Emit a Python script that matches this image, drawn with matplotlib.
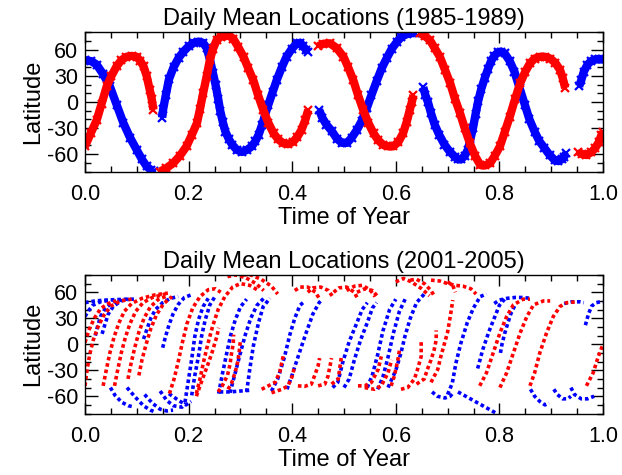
import matplotlib
matplotlib.use("Agg")
import matplotlib.pyplot as plt
from matplotlib.ticker import MultipleLocator

plt.rcParams['font.family'] = ['Liberation Sans', 'DejaVu Sans']

BLUE = (0.0, 0.0, 1.0)
RED = (1.0, 0.0, 0.0)

titles = ["Daily Mean Locations (1985-1989)", "Daily Mean Locations (2001-2005)"]
x_label = "Time of Year"
y_label = "Latitude"
x_ticks = [0.0, 0.2, 0.4, 0.6, 0.8, 1.0]
x_tick_labels = ["0.0", "0.2", "0.4", "0.6", "0.8", "1.0"]
y_ticks = [-60, -30, 0, 30, 60]
y_tick_labels = ["-60", "-30", "0", "30", "60"]

# ---- 1985-1989: (time of year, latitude) tracks, one list per continuous pass
early_blue = [
    [(0.000, 48), (0.012, 47), (0.0225, 43), (0.035, 32), (0.048, 18), (0.061, -3), (0.074, -24),
     (0.087, -41), (0.0998, -55), (0.110, -66), (0.119, -74), (0.127, -78), (0.133, -79)],
    [(0.149, -18), (0.151, -8), (0.156, 8), (0.162, 26), (0.171, 40), (0.181, 51), (0.190, 58),
     (0.200, 64), (0.210, 68), (0.219, 69.5), (0.228, 68), (0.235, 62), (0.242, 47), (0.247, 33),
     (0.252, 20), (0.257, 4), (0.261, -10), (0.266, -23), (0.271, -34), (0.278, -43), (0.284, -49),
     (0.293, -55), (0.303, -57.5), (0.313, -55), (0.322, -51), (0.329, -45), (0.335, -38),
     (0.342, -26), (0.348, -14), (0.354, -3), (0.362, 11), (0.370, 25), (0.380, 40), (0.389, 52),
     (0.399, 61), (0.409, 67.5), (0.416, 68), (0.421, 64), (0.427, 60), (0.431, 57)],
    [(0.452, -9), (0.458, -18), (0.466, -26), (0.476, -33), (0.486, -42), (0.496, -47),
     (0.506, -47), (0.515, -41), (0.525, -32), (0.534, -22), (0.544, -7), (0.553, 8), (0.563, 24),
     (0.573, 39), (0.583, 51), (0.592, 61), (0.602, 69), (0.611, 75), (0.621, 78), (0.631, 79.5),
     (0.637, 79)],
    [(0.653, 17), (0.657, 8), (0.662, 0), (0.668, -13), (0.675, -26), (0.684, -38), (0.694, -49),
     (0.704, -57), (0.714, -63), (0.720, -66), (0.726, -66), (0.733, -62), (0.739, -55),
     (0.744, -43), (0.749, -30), (0.754, -14), (0.759, 1), (0.765, 15), (0.772, 28), (0.778, 38),
     (0.784, 47), (0.790, 53), (0.797, 57), (0.803, 58), (0.810, 56), (0.820, 47), (0.829, 35),
     (0.839, 16), (0.849, -3), (0.858, -20), (0.868, -34), (0.877, -45), (0.887, -53),
     (0.897, -61), (0.907, -67), (0.914, -68), (0.920, -66), (0.925, -63), (0.929, -59)],
    [(0.954, 18), (0.958, 25), (0.963, 35), (0.970, 43), (0.977, 47), (0.984, 49), (0.992, 49),
     (1.000, 49)],
]
early_red = [
    [(0.000, -51), (0.011, -36), (0.0225, -21), (0.032, -2), (0.042, 18), (0.051, 30), (0.061, 41),
     (0.070, 48), (0.080, 52), (0.090, 53), (0.0998, 52), (0.107, 47), (0.113, 41), (0.119, 30),
     (0.125, 14), (0.129, 3), (0.132, -9)],
    [(0.145, -80), (0.157, -76), (0.170, -70.5), (0.183, -62), (0.196, -51), (0.206, -38),
     (0.216, -24.5), (0.222, -8), (0.228, 10), (0.235, 30), (0.241, 48), (0.247, 61), (0.254, 71),
     (0.262, 75), (0.270, 77), (0.278, 76), (0.286, 73), (0.296, 63), (0.306, 52), (0.315, 39),
     (0.325, 25), (0.334, 8), (0.344, -9), (0.354, -24), (0.364, -36), (0.373, -43),
     (0.383, -47.5), (0.392, -48.5), (0.402, -45.7), (0.410, -40), (0.418, -32), (0.425, -21),
     (0.431, -9)],
    [(0.450, 64), (0.460, 67), (0.473, 67.5), (0.486, 62), (0.499, 52), (0.508, 40), (0.518, 25),
     (0.527, 8), (0.537, -9), (0.547, -24), (0.557, -36), (0.566, -44), (0.576, -49.5),
     (0.585, -51), (0.595, -51), (0.605, -46), (0.614, -36), (0.621, -23), (0.627, -9),
     (0.631, 0), (0.634, 8)],
    [(0.647, 79), (0.656, 76), (0.666, 71), (0.675, 62), (0.685, 52), (0.695, 37), (0.705, 21.5),
     (0.714, 4), (0.724, -13), (0.733, -30), (0.743, -47.5), (0.753, -62), (0.763, -72.5),
     (0.772, -73), (0.782, -70.5), (0.791, -62), (0.801, -51), (0.810, -35), (0.820, -17),
     (0.830, 3), (0.840, 21.5), (0.850, 35), (0.859, 44.5), (0.868, 50), (0.878, 52),
     (0.888, 52), (0.898, 50), (0.908, 45), (0.917, 37), (0.922, 28), (0.927, 16)],
    [(0.952, -57), (0.960, -60), (0.968, -61), (0.977, -58), (0.985, -53), (0.992, -46),
     (0.997, -38), (1.000, -35)],
]

# ---- 2001-2005 tracks
late_blue = [
    [(0.0, 48), (0.02, 50), (0.04, 51), (0.06, 51.5), (0.08, 52), (0.095, 52)],
    [(0.0, 32), (0.006, 38), (0.015, 45), (0.03, 49), (0.05, 51)],
    [(0.02, 10), (0.024, 20), (0.03, 32), (0.04, 42), (0.055, 49), (0.07, 51)],
    [(0.033, 12), (0.038, 22), (0.045, 35), (0.055, 44), (0.07, 50), (0.085, 52)],
    [(0.113, 6), (0.12, 18), (0.127, 30), (0.136, 40), (0.15, 48), (0.165, 53), (0.18, 55)],
    [(0.15, -4), (0.155, 8), (0.162, 22), (0.17, 35), (0.18, 46), (0.192, 54), (0.205, 57)],
    [(0.049, -50), (0.058, -59), (0.071, -67), (0.084, -71), (0.092, -72)],
    [(0.081, -50), (0.097, -61), (0.113, -71), (0.126, -76), (0.135, -78)],
    [(0.115, -58), (0.13, -68), (0.145, -75), (0.158, -77), (0.17, -76)],
    [(0.145, -54), (0.158, -65), (0.171, -71), (0.187, -72.6), (0.195, -68)],
    [(0.162, -57), (0.181, -65), (0.195, -70), (0.205, -66)],
    [(0.193, -67), (0.2, -40), (0.206, -17), (0.212, 9), (0.219, 28), (0.228, 43.5), (0.238, 53)],
    [(0.206, -59), (0.212, -36), (0.219, -14), (0.225, 9), (0.232, 28), (0.241, 45.5), (0.251, 55)],
    [(0.258, -57), (0.265, -35), (0.273, -12), (0.281, 10), (0.29, 28), (0.3, 43), (0.312, 52)],
    [(0.28, -56), (0.29, -33), (0.3, -10), (0.31, 12), (0.32, 30), (0.332, 45), (0.345, 53)],
    [(0.312, -55), (0.318, -29), (0.325, -2), (0.335, 25), (0.344, 43.5), (0.357, 53)],
    [(0.26, -55), (0.28, -55), (0.3, -54), (0.32, -53)],
    [(0.36, -54), (0.372, -40), (0.385, -15), (0.395, 10), (0.405, 30), (0.415, 45), (0.425, 50)],
    [(0.39, -52), (0.4, -35), (0.411, -15), (0.425, 10), (0.44, 35), (0.452, 48), (0.458, 52)],
    [(0.478, -50), (0.488, -44), (0.498, -20), (0.51, 3), (0.523, 22), (0.535, 40), (0.545, 48)],
    [(0.5, -50), (0.51, -40), (0.52, -18), (0.532, 5), (0.545, 25), (0.555, 42), (0.563, 48)],
    [(0.545, -50), (0.555, -35), (0.565, -12), (0.575, 15), (0.588, 40), (0.6, 52)],
    [(0.565, -52), (0.575, -38), (0.585, -15), (0.595, 12), (0.607, 38), (0.618, 52)],
    [(0.585, -50), (0.6, -30), (0.61, -10), (0.618, 10), (0.628, 30), (0.64, 48), (0.655, 58)],
    [(0.67, -55), (0.68, -60), (0.695, -62), (0.705, -60), (0.712, -55)],
    [(0.7, -58), (0.709, -45), (0.716, -22), (0.725, 0), (0.738, 25), (0.75, 42), (0.763, 55),
     (0.775, 58)],
    [(0.758, -28), (0.768, -6), (0.78, 15), (0.79, 30), (0.8, 45), (0.81, 52)],
    [(0.72, -55), (0.735, -60), (0.75, -65), (0.765, -70), (0.78, -75), (0.795, -80)],
    [(0.79, 47), (0.8, 51), (0.815, 53), (0.83, 54), (0.845, 54), (0.86, 53)],
    [(0.802, -10), (0.805, 0), (0.81, 12), (0.815, 22), (0.822, 35), (0.83, 45)],
    [(0.86, -52), (0.868, -60), (0.878, -66), (0.888, -70), (0.896, -68)],
    [(0.905, -52), (0.912, -58), (0.922, -63), (0.932, -63), (0.938, -60)],
    [(0.938, -50), (0.945, -58), (0.958, -63), (0.97, -63), (0.983, -60)],
    [(0.925, 47), (0.94, 49), (0.955, 49), (0.963, 48)],
    [(0.966, 22), (0.972, 35), (0.978, 44), (0.987, 48), (0.995, 49), (1.0, 49)],
]
late_red = [
    [(0.0, -48), (0.004, -30), (0.009, -12), (0.016, 5), (0.025, 20), (0.036, 33), (0.05, 44),
     (0.068, 50), (0.09, 52)],
    [(0.0, 2), (0.008, 17), (0.018, 30), (0.03, 41), (0.045, 47), (0.06, 50)],
    [(0.035, -48), (0.041, -30), (0.048, -10), (0.056, 8), (0.065, 24), (0.076, 38), (0.09, 47),
     (0.11, 53), (0.135, 57), (0.16, 59)],
    [(0.057, -48), (0.063, -30), (0.07, -10), (0.078, 8), (0.087, 24), (0.098, 38), (0.112, 48),
     (0.13, 54), (0.155, 58)],
    [(0.083, -40), (0.089, -22), (0.096, -4), (0.104, 14), (0.114, 30), (0.126, 43), (0.142, 52),
     (0.16, 56)],
    [(0.104, -36), (0.11, -18), (0.118, 0), (0.127, 18), (0.138, 34), (0.152, 47), (0.168, 55)],
    [(0.163, -57), (0.172, -40), (0.18, -20), (0.188, 2), (0.197, 24), (0.208, 42), (0.222, 55),
     (0.238, 63), (0.252, 64), (0.262, 60)],
    [(0.215, -57), (0.222, -40), (0.229, -20), (0.237, 0), (0.246, 20), (0.257, 40), (0.27, 55),
     (0.285, 66), (0.3, 70), (0.318, 68), (0.332, 63)],
    [(0.275, 78), (0.29, 80), (0.31, 77), (0.33, 70), (0.345, 62)],
    [(0.305, 80), (0.32, 80), (0.34, 75), (0.36, 67), (0.372, 58)],
    [(0.215, -60), (0.222, -48), (0.23, -35), (0.238, -22), (0.245, -10), (0.25, 0), (0.255, 10),
     (0.258, 19)],
    [(0.257, -55), (0.265, -48), (0.275, -36), (0.28, -23), (0.283, -10), (0.286, 0), (0.287, 11)],
    [(0.276, -52), (0.283, -45), (0.29, -32), (0.295, -20), (0.298, -7), (0.3, 4)],
    [(0.341, -52), (0.354, -48), (0.367, -44), (0.376, -32), (0.38, -21), (0.383, -13)],
    [(0.36, -56), (0.38, -52), (0.392, -48), (0.4, -37), (0.405, -25)],
    [(0.405, 62), (0.415, 66), (0.43, 66), (0.445, 60), (0.452, 53)],
    [(0.43, 60), (0.44, 65), (0.455, 66), (0.47, 62), (0.478, 55)],
    [(0.48, 60), (0.49, 65), (0.505, 66), (0.52, 60), (0.525, 54)],
    [(0.505, 62), (0.52, 67), (0.535, 68), (0.55, 63), (0.56, 55)],
    [(0.525, 60), (0.54, 64), (0.555, 62), (0.565, 55)],
    [(0.411, -48), (0.424, -48.6), (0.437, -46), (0.443, -36.6), (0.45, -25), (0.453, -16)],
    [(0.45, -48), (0.463, -46), (0.469, -37), (0.473, -25), (0.476, -16)],
    [(0.476, -46), (0.489, -40), (0.492, -27), (0.495, -14)],
    [(0.527, -48), (0.54, -48), (0.553, -44), (0.566, -29), (0.572, -14)],
    [(0.54, -50), (0.559, -52), (0.572, -48), (0.585, -33), (0.592, -18)],
    [(0.591, -48), (0.597, -37), (0.604, -18), (0.607, -7)],
    [(0.61, -52), (0.623, -50), (0.636, -40), (0.642, -29), (0.649, -14), (0.649, 5)],
    [(0.64, -46), (0.655, -40), (0.661, -29), (0.668, -18), (0.674, -6.5), (0.678, 5), (0.678, 16)],
    [(0.668, -44), (0.681, -29), (0.687, -14), (0.694, 1), (0.7, 14), (0.704, 28), (0.707, 39),
     (0.71, 51)],
    [(0.6, 72), (0.615, 76), (0.63, 72), (0.65, 64), (0.665, 56)],
    [(0.628, 74), (0.64, 75), (0.655, 70), (0.668, 62), (0.674, 56)],
    [(0.668, 74), (0.685, 73), (0.7, 70), (0.715, 68), (0.73, 67), (0.745, 64), (0.755, 58)],
    [(0.7, 72), (0.71, 68), (0.715, 60)],
    [(0.762, -48), (0.775, -33), (0.788, -10), (0.801, 13), (0.814, 32), (0.827, 45.5), (0.846, 52),
     (0.859, 52)],
    [(0.801, -50), (0.814, -33), (0.827, -10), (0.84, 13), (0.853, 32), (0.866, 45.5), (0.885, 50),
     (0.898, 50)],
    [(0.859, -48), (0.868, -33), (0.878, -10), (0.891, 13), (0.904, 32), (0.917, 43.6), (0.93, 48),
     (0.949, 49)],
    [(0.968, -48), (0.981, -33), (0.991, -14), (1.0, 0)],
]

fig = plt.figure(figsize=(6.22, 4.75), dpi=100)
ax_top = fig.add_axes([85 / 622, (475 - 172) / 475, 518 / 622, 140 / 475])
ax_bot = fig.add_axes([85 / 622, (475 - 414) / 475, 518 / 622, 139.5 / 475])


def style_axes(ax, title):
    ax.set_xlim(0, 1)
    ax.set_ylim(-80.5, 80.5)
    ax.set_xticks(x_ticks)
    ax.set_xticklabels(x_tick_labels)
    ax.set_yticks(y_ticks)
    ax.set_yticklabels(y_tick_labels)
    ax.xaxis.set_minor_locator(MultipleLocator(0.05))
    ax.yaxis.set_minor_locator(MultipleLocator(10))
    ax.tick_params(which='both', direction='in', top=True, right=True, labelsize=15.5,
                   width=1, color='black')
    ax.tick_params(axis='x', which='major', length=8, pad=9)
    ax.tick_params(axis='x', which='minor', length=4)
    ax.tick_params(axis='y', which='major', length=9, pad=5)
    ax.tick_params(axis='y', which='minor', length=4.5)
    for s in ax.spines.values():
        s.set_linewidth(1.0)
    ax.set_title(title, fontsize=17, pad=5)
    ax.set_xlabel(x_label, fontsize=17, labelpad=1)
    ax.set_ylabel(y_label, fontsize=17, labelpad=2)


# thick bands: a wide stroke with small crosses along it for the ragged edge
for color, tracks in ((BLUE, early_blue), (RED, early_red)):
    for seg in tracks:
        xs = [p[0] for p in seg]
        ys = [p[1] for p in seg]
        ax_top.plot(xs, ys, color=color, lw=6.0, solid_capstyle='butt', solid_joinstyle='round')
        ax_top.plot(xs, ys, ls='none', marker='x', ms=5.5, mew=1.6, color=color)

# dotted strands of daily positions
for color, tracks in ((BLUE, late_blue), (RED, late_red)):
    for seg in tracks:
        xs = [p[0] for p in seg]
        ys = [p[1] for p in seg]
        ax_bot.plot(xs, ys, color=color, lw=2.6, ls=(0, (1.0, 0.8)), dash_capstyle='butt')

style_axes(ax_top, titles[0])
style_axes(ax_bot, titles[1])

fig.savefig("out.png", dpi=100)
